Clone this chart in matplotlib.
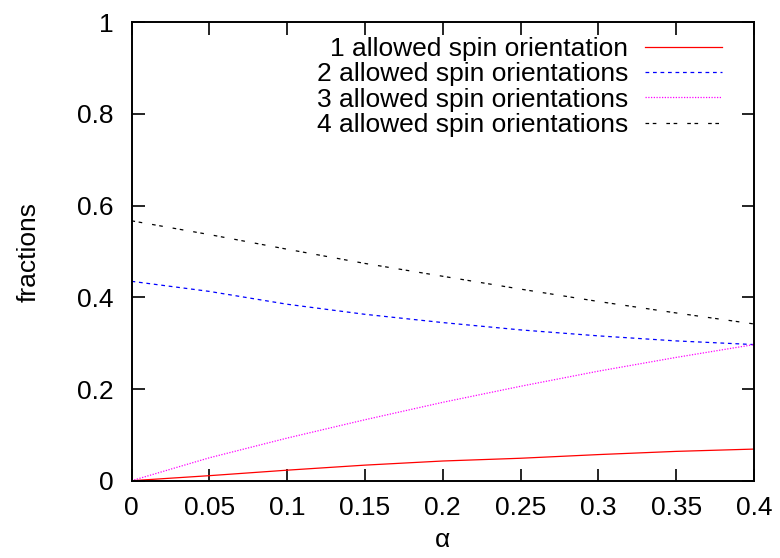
import numpy as np
import matplotlib
matplotlib.use("Agg")
import matplotlib.pyplot as plt

# fractions of sites vs alpha for each number of allowed spin orientations
alpha = [0.0, 0.05, 0.1, 0.15, 0.2, 0.25, 0.3, 0.35, 0.4]
frac_1 = [0.0, 0.011, 0.023, 0.034, 0.043, 0.049, 0.057, 0.064, 0.069]
frac_2 = [0.435, 0.413, 0.385, 0.363, 0.345, 0.329, 0.316, 0.305, 0.297]
frac_3 = [0.0, 0.050, 0.093, 0.133, 0.171, 0.206, 0.239, 0.269, 0.297]
frac_4 = [0.567, 0.537, 0.505, 0.474, 0.446, 0.418, 0.391, 0.366, 0.342]

labels = ["1 allowed spin orientation",
          "2 allowed spin orientations",
          "3 allowed spin orientations",
          "4 allowed spin orientations"]

plt.rcParams['font.family'] = ['Liberation Sans', 'DejaVu Sans']
FS = 19

fig = plt.figure(figsize=(7.8, 5.58), dpi=100)
ax = fig.add_axes([0.1686, 0.1385, 0.798, 0.8215])

ax.plot(alpha, frac_1, color="#ff0000", lw=0.9, label=labels[0])
ax.plot(alpha, frac_2, color="#0000ff", lw=0.9, dashes=(3, 3), label=labels[1])
ax.plot(alpha, frac_3, color="#ff00ff", lw=0.9, dashes=(1, 1.2), label=labels[2])
ax.plot(alpha, frac_4, color="#000000", lw=0.9, dashes=(2.9, 2.9, 2.9, 8),
        label=labels[3])

ax.set_xlim(0, 0.4)
ax.set_ylim(0, 1)
ax.set_xticks(np.arange(0, 0.41, 0.05))
ax.set_xticklabels(["0", "0.05", "0.1", "0.15", "0.2", "0.25", "0.3", "0.35", "0.4"])
ax.set_yticks([0, 0.2, 0.4, 0.6, 0.8, 1.0])
ax.set_yticklabels(["0", "0.2", "0.4", "0.6", "0.8", "1"])
ax.tick_params(axis="both", direction="in", length=9, width=1.2, top=True,
               right=True, labelsize=FS)
ax.tick_params(axis="x", pad=11)
ax.tick_params(axis="y", pad=13)
for s in ax.spines.values():
    s.set_linewidth(1.4)

ax.set_xlabel("α", fontsize=FS, labelpad=6)
ax.set_ylabel("fractions", fontsize=FS, labelpad=26)

ax.legend(loc="upper right", bbox_to_anchor=(0.965, 0.991), frameon=False,
          markerfirst=False, fontsize=FS, handlelength=2.9, handletextpad=0.65,
          labelspacing=0.05, borderaxespad=0)

fig.savefig("out.png", dpi=100)
